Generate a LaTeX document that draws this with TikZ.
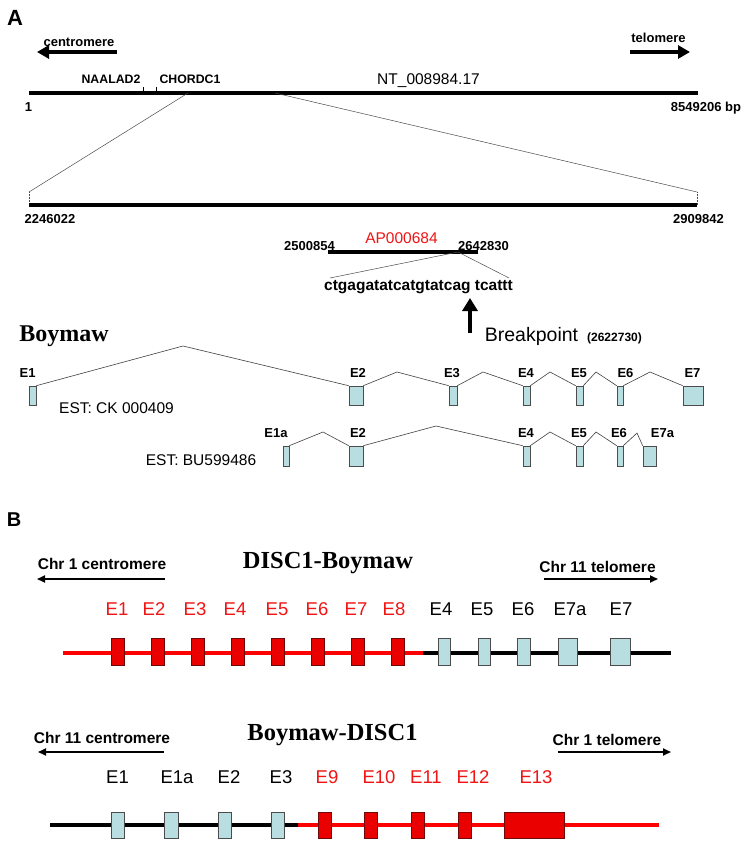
\documentclass[tikz,border=0pt]{standalone}
\usepackage{fontspec}
\setmainfont{Liberation Sans}
\newfontfamily\tmsfont{Liberation Serif}
\usetikzlibrary{arrows.meta}
\definecolor{exonblue}{RGB}{184,222,226}
\definecolor{exred}{RGB}{235,0,0}
\definecolor{exredline}{RGB}{110,10,10}
\definecolor{txtred}{RGB}{240,20,20}
\tikzset{
  bx/.style={draw=black!70, fill=exonblue, inner sep=0pt, line width=0.6pt},
  rx/.style={draw=exredline, fill=exred, inner sep=0pt, line width=0.6pt},
  intr/.style={draw=black!75, line width=0.6pt},
  zoomln/.style={draw=black!70, line width=0.5pt},
  chrom/.style={line width=3.3pt, line cap=butt},
  fuse/.style={line width=3.5pt},
  bigarrow/.style={line width=4.5pt, -{Triangle[length=12pt,width=13pt]}},
  smallarrow/.style={line width=1.8pt, -{Triangle[length=8pt,width=7pt]}},
  txt/.style={inner sep=0pt, anchor=base},
  b13/.style={txt, font=\fontsize{13}{15}\selectfont\bfseries},
  b12/.style={txt, font=\fontsize{12.3}{14}\selectfont\bfseries},
  r15/.style={txt, font=\fontsize{15.5}{18}\selectfont},
  b155/.style={txt, font=\fontsize{15.5}{18}\selectfont\bfseries},
  r18/.style={txt, font=\fontsize{18.5}{21}\selectfont},
  ttl/.style={txt, font=\fontsize{24.5}{28}\selectfont\tmsfont\bfseries},
  panel/.style={txt, font=\fontsize{22}{26}\selectfont\bfseries},
}
\begin{document}
\begin{tikzpicture}[x=1pt, y=-1pt]
\useasboundingbox (0,0) rectangle (752,848);
\fill[white] (0,0) rectangle (752,848);

% ---------------- Panel A ----------------
\node[panel] (pA) at (15,26) {A};
\node[b13] (tcen) at (79,47) {centromere};
\node[b13] (ttel) at (658.5,43) {telomere};
\coordinate (cenS) at (117,52); \coordinate (cenE) at (37,52);
\coordinate (telS) at (630,52); \coordinate (telE) at (690,52);
\draw[bigarrow] (cenS) -- (cenE);
\draw[bigarrow] (telS) -- (telE);

% chromosome contig
\coordinate (c1L) at (29,93); \coordinate (c1R) at (698,93);
\draw[chrom] (c1L) -- (c1R);
\coordinate (tk1a) at (143,87); \coordinate (tk1b) at (143,93);
\coordinate (tk2a) at (156,87); \coordinate (tk2b) at (156,93);
\draw[line width=0.6pt] (tk1a) -- (tk1b);
\draw[line width=0.6pt] (tk2a) -- (tk2b);
\node[b12] (naalad) at (111,84) {NAALAD2};
\node[b12] (chordc) at (190,84) {CHORDC1};
\node[r15] (ntlab) at (428.5,85) {NT\_008984.17};
\node[b13] (one) at (28.5,112) {1};
\node[b13] (bpend) at (706,112) {8549206 bp};

% zoom lines
\coordinate (zL0) at (188,93); \coordinate (zL1) at (29,192); \coordinate (c2L) at (29,205);
\coordinate (zR0) at (275,93); \coordinate (zR1) at (697,192); \coordinate (c2R) at (697,205);
\draw[zoomln] (zL0) -- (zL1);
\draw[zoomln, densely dotted] (zL1) -- (c2L);
\draw[zoomln] (zR0) -- (zR1);
\draw[zoomln, densely dotted] (zR1) -- (c2R);
\draw[chrom] (c2L) -- (c2R);
\node[b13] (p2246) at (50,223) {2246022};
\node[b13] (p2909) at (698.5,223) {2909842};

% AP000684
\node[b13] (p2500) at (309.5,250) {2500854};
\node[r15, text=txtred] (ap) at (401.5,243) {AP000684};
\node[b13] (p2642) at (483.5,250) {2642830};
\coordinate (apL) at (328,252); \coordinate (apR) at (478,252);
\draw[chrom] (apL) -- (apR);
\coordinate (apM) at (458,252);
\coordinate (sqL) at (330,278); \coordinate (sqR) at (509,278);
\draw[zoomln] (apM) -- (sqL);
\draw[zoomln] (apM) -- (sqR);
\node[b155] (seq) at (418.5,290) {ctgagatatcatgtatcag tcattt};
\coordinate (bkS) at (470,333); \coordinate (bkE) at (470,298);
\draw[line width=4.5pt, -{Triangle[length=13pt,width=15pt]}] (bkS) -- (bkE);
\node[txt, font=\fontsize{19.5}{22}\selectfont] (bk) at (531.5,341) {Breakpoint};
\node[b13, font=\fontsize{12}{14}\selectfont\bfseries] (bkpos) at (614.5,341) {(2622730)};

\node[ttl, font=\fontsize{24}{28}\selectfont\tmsfont\bfseries] (boy) at (64,341) {Boymaw};

% row 1 exons (EST CK 000409)
\node[bx, minimum width=7pt,  minimum height=19pt] (a1) at (32.5,395.5) {};
\node[bx, minimum width=14pt, minimum height=19pt] (a2) at (356,395.5) {};
\node[bx, minimum width=8pt,  minimum height=19pt] (a3) at (453,395.5) {};
\node[bx, minimum width=7pt,  minimum height=19pt] (a4) at (526.5,395.5) {};
\node[bx, minimum width=7pt,  minimum height=19pt] (a5) at (579.5,395.5) {};
\node[bx, minimum width=6pt,  minimum height=19pt] (a6) at (620,395.5) {};
\node[bx, minimum width=20pt, minimum height=19pt] (a7) at (693,395.5) {};
\coordinate (pk12) at (183,346);
\coordinate (pk23) at (397,372);
\coordinate (pk34) at (483,372);
\coordinate (pk45) at (550,372);
\coordinate (pk56) at (596,372);
\coordinate (pk67) at (650,372);
\draw[intr] (a1.north east) -- (pk12) -- (a2.north west);
\draw[intr] (a2.north east) -- (pk23) -- (a3.north west);
\draw[intr] (a3.north east) -- (pk34) -- (a4.north west);
\draw[intr] (a4.north east) -- (pk45) -- (a5.north west);
\draw[intr] (a5.north east) -- (pk56) -- (a6.north west);
\draw[intr] (a6.north east) -- (pk67) -- (a7.north west);
\foreach \n/\x/\t in {1/27.7/E1, 2/358/E2, 3/452/E3, 4/526/E4, 5/579/E5, 6/625.5/E6, 7/692.5/E7}
  \node[b13] (la\n) at (\x,377) {\t};
\node[r15] (estck) at (116.5,413) {EST: CK 000409};

% row 2 exons (EST BU599486)
\node[bx, minimum width=6pt,  minimum height=20pt] (b1) at (286,456) {};
\node[bx, minimum width=14pt, minimum height=20pt] (b2) at (356,456) {};
\node[bx, minimum width=7pt,  minimum height=20pt] (b4) at (526.5,456) {};
\node[bx, minimum width=7pt,  minimum height=20pt] (b5) at (579.5,456) {};
\node[bx, minimum width=6pt,  minimum height=20pt] (b6) at (620,456) {};
\node[bx, minimum width=13pt, minimum height=20pt] (b7) at (649.5,456) {};
\coordinate (qk12) at (323,432);
\coordinate (qk24) at (436,426);
\coordinate (qk45) at (550,432);
\coordinate (qk56) at (596,432);
\coordinate (qk67) at (637,433);
\draw[intr] (b1.north east) -- (qk12) -- (b2.north west);
\draw[intr] (b2.north east) -- (qk24) -- (b4.north west);
\draw[intr] (b4.north east) -- (qk45) -- (b5.north west);
\draw[intr] (b5.north east) -- (qk56) -- (b6.north west);
\draw[intr] (b6.north east) -- (qk67) -- (b7.north west);
\foreach \n/\x/\t in {1/276/E1a, 2/358/E2, 4/526/E4, 5/579/E5, 6/619/E6, 7/662.5/E7a}
  \node[b13] (lb\n) at (\x,437) {\t};
\node[r15] (estbu) at (201,465) {EST: BU599486};

% ---------------- Panel B ----------------
\node[panel, font=\fontsize{20}{24}\selectfont\bfseries] (pB) at (14,526) {B};

% DISC1-Boymaw
\node[b155] (c1cen) at (102,569) {Chr 1 centromere};
\node[ttl] (t1) at (328,568) {DISC1-Boymaw};
\node[b155] (c11tel) at (597.5,572) {Chr 11 telomere};
\coordinate (ar1S) at (165,579); \coordinate (ar1E) at (37,579);
\coordinate (ar2S) at (544,579); \coordinate (ar2E) at (658,579);
\draw[smallarrow] (ar1S) -- (ar1E);
\draw[smallarrow] (ar2S) -- (ar2E);

\coordinate (f1L) at (63,653); \coordinate (f1M) at (423,653); \coordinate (f1R) at (671,653);
\draw[fuse, red] (f1L) -- (f1M);
\draw[fuse, black] (f1M) -- (f1R);
\foreach \n/\x in {1/117.5, 2/157.5, 3/197.5, 4/237.5, 5/277.5, 6/317.5, 7/357.5, 8/397.5}
  \node[rx, minimum width=13pt, minimum height=27pt] (d\n) at (\x,651.5) {};
\node[bx, minimum width=12pt, minimum height=27pt] (g4) at (444,651.5) {};
\node[bx, minimum width=12pt, minimum height=27pt] (g5) at (484,651.5) {};
\node[bx, minimum width=13pt, minimum height=27pt] (g6) at (523.5,651.5) {};
\node[bx, minimum width=19pt, minimum height=27pt] (g7a) at (567.5,651.5) {};
\node[bx, minimum width=20pt, minimum height=27pt] (g7) at (620,651.5) {};
\foreach \n/\x in {1/117, 2/154, 3/195, 4/235, 5/277, 6/317, 7/356, 8/394}
  \node[r18, text=txtred] (ld\n) at (\x,615) {E\n};
\foreach \n/\x/\t in {4/441/E4, 5/482/E5, 6/523/E6, 7a/570/E7a, 7/621/E7}
  \node[r18] (lg\n) at (\x,615) {\t};

% Boymaw-DISC1
\node[b155] (c11cen) at (102,743) {Chr 11 centromere};
\node[ttl] (t2) at (332.5,740) {Boymaw-DISC1};
\node[b155] (c1tel) at (607,745) {Chr 1 telomere};
\coordinate (ar3S) at (164,752); \coordinate (ar3E) at (38,752);
\coordinate (ar4S) at (558,752); \coordinate (ar4E) at (671,752);
\draw[smallarrow] (ar3S) -- (ar3E);
\draw[smallarrow] (ar4S) -- (ar4E);

\coordinate (f2L) at (50,825); \coordinate (f2M) at (298,825); \coordinate (f2R) at (659,825);
\draw[fuse, black] (f2L) -- (f2M);
\draw[fuse, red] (f2M) -- (f2R);
\node[bx, minimum width=13pt, minimum height=26pt] (h1) at (117.5,825) {};
\node[bx, minimum width=14pt, minimum height=26pt] (h1a) at (171,825) {};
\node[bx, minimum width=13pt, minimum height=26pt] (h2) at (224.5,825) {};
\node[bx, minimum width=13pt, minimum height=26pt] (h3) at (277.5,825) {};
\node[rx, minimum width=13pt, minimum height=26pt] (k9) at (324.5,825) {};
\node[rx, minimum width=13pt, minimum height=26pt] (k10) at (370.5,825) {};
\node[rx, minimum width=13pt, minimum height=26pt] (k11) at (417.5,825) {};
\node[rx, minimum width=13pt, minimum height=26pt] (k12) at (464.5,825) {};
\node[rx, minimum width=60pt, minimum height=26pt] (k13) at (534,825) {};
\foreach \n/\x/\t in {1/117.5/E1, 1a/177/E1a, 2/229/E2, 3/281/E3}
  \node[r18] (lh\n) at (\x,783) {\t};
\foreach \n/\x in {9/327, 10/379, 11/426, 12/473, 13/536}
  \node[r18, text=txtred] (lk\n) at (\x,783) {E\n};
\end{tikzpicture}
\end{document}
